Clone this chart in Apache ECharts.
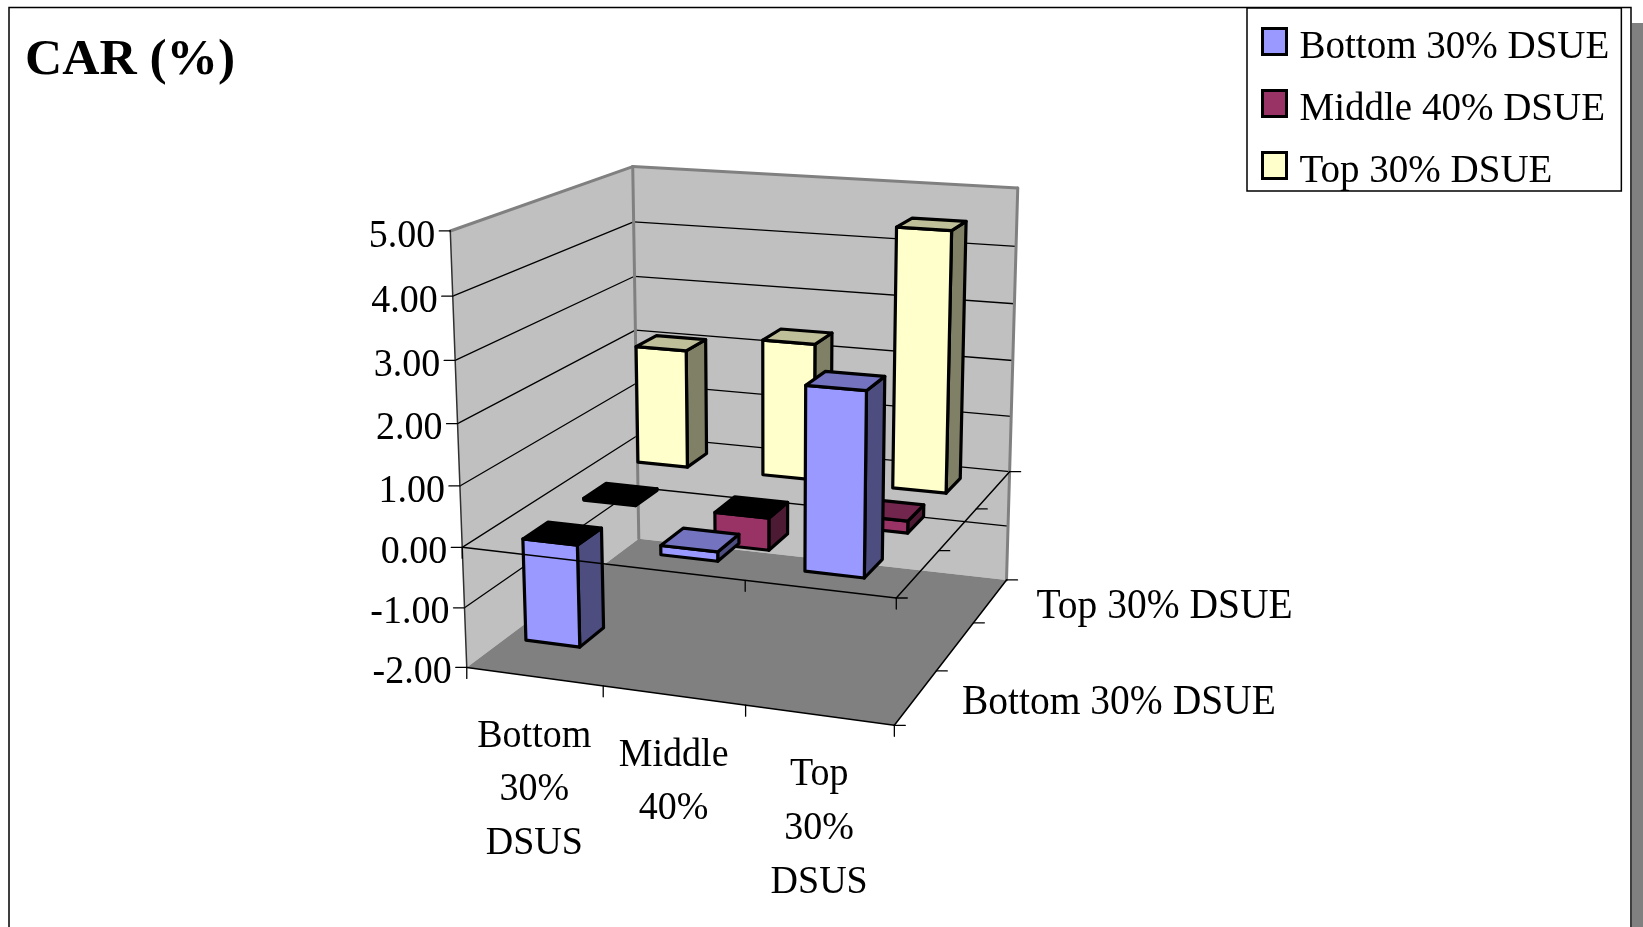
<!DOCTYPE html>
<html>
<head>
<meta charset="utf-8">
<style>html,body{margin:0;padding:0;background:#fff}#chart{width:1643px;height:927px}</style>
<script src="https://cdn.jsdelivr.net/npm/echarts@6/dist/echarts.min.js"></script>
</head>
<body>
<div id="chart"></div>
<script>
// Chart data
const surpriseGroups = ["Bottom\n30%\nDSUS", "Middle\n40%", "Top\n30%\nDSUS"];
const earningsGroups = ["Bottom 30% DSUE", "Middle 40% DSUE", "Top 30% DSUE"];
const valueTicks = [5, 4, 3, 2, 1, 0, -1, -2];
const bottomDsue = [-1.7, 0.15, 2.9];
const middleDsue = [-0.03, -0.55, 0.2];
const topDsue = [2.1, 2.4, 4.5];

// Face colours of each bar: front, lit top, shaded side
const faces = {
  bottom: { front: "#9999FF", top: "#7373BF", side: "#4D4D80" },
  middle: { front: "#993366", top: "#73264D", side: "#4D1A33" },
  top: { front: "#FFFFCC", top: "#BFBF99", side: "#808066" }
};

const FONT = '"Liberation Serif", "Times New Roman", serif';
const LABEL = "38px " + FONT;
const WIDE_LABEL = "39.5px " + FONT;
const vMin = valueTicks[valueTicks.length - 1];
const vMax = valueTicks[0];
const nCat = surpriseGroups.length;
const nRow = earningsGroups.length;

// Camera calibration: known plot-box corners (category, row, value) -> canvas position
const calibration = [
  [0, 0, vMax, 450.6, 230.5], [0, nRow, vMax, 632.9, 166], [nCat, nRow, vMax, 1017.4, 188.6],
  [0, 0, vMin, 467.3, 667.5], [0, nRow, vMin, 639.2, 537.5], [nCat, nRow, vMin, 1007, 579.4],
  [nCat, 0, vMin, 893, 726], [0, 0, 0, 462, 547], [nCat, 0, 0, 897, 598],
  [nCat, nRow, 0, 1010, 471], [0, nRow, 0, 636, 438]
];

// Least-squares fit of a projective camera matrix (11 free terms)
function fitCamera(points) {
  const n = 11, A = [];
  for (let i = 0; i < n; i++) A.push(new Array(n + 1).fill(0));
  const add = (row, rhs) => {
    for (let i = 0; i < n; i++) {
      for (let j = 0; j < n; j++) A[i][j] += row[i] * row[j];
      A[i][n] += row[i] * rhs;
    }
  };
  points.forEach(([u, v, w, px, py]) => {
    const x = px / 1000, y = py / 1000;
    add([u, v, w, 1, 0, 0, 0, 0, -x * u, -x * v, -x * w], x);
    add([0, 0, 0, 0, u, v, w, 1, -y * u, -y * v, -y * w], y);
  });
  for (let c = 0; c < n; c++) {
    let best = c;
    for (let r = c + 1; r < n; r++) if (Math.abs(A[r][c]) > Math.abs(A[best][c])) best = r;
    [A[c], A[best]] = [A[best], A[c]];
    for (let r = 0; r < n; r++) {
      if (r === c) continue;
      const f = A[r][c] / A[c][c];
      for (let k = c; k <= n; k++) A[r][k] -= f * A[c][k];
    }
  }
  return A.map((row, i) => row[n] / row[i]);
}
const cam = fitCamera(calibration);
function project(u, v, w) {
  const d = cam[8] * u + cam[9] * v + cam[10] * w + 1;
  return [
    1000 * (cam[0] * u + cam[1] * v + cam[2] * w + cam[3]) / d,
    1000 * (cam[4] * u + cam[5] * v + cam[6] * w + cam[7]) / d
  ];
}

// Shape helpers: all go through the cartesian axes of the grid
const pt = (api, u, v, w) => api.coord(project(u, v, w));
const poly = (points, fill, stroke, lineWidth) => ({
  type: "polygon",
  shape: { points },
  style: { fill, stroke: stroke || null, lineWidth: lineWidth || 0, lineJoin: "round" }
});
const line = (a, b, stroke, lineWidth) => ({
  type: "line",
  shape: { x1: a[0], y1: a[1], x2: b[0], y2: b[1] },
  style: { stroke, lineWidth, lineCap: "round", fill: null }
});
// Serif labels are set slightly tall
const TALL = 1.06;
const text = (x, y, str, font, align, vAlign, extra) => ({
  type: "text",
  x,
  y,
  scaleY: TALL,
  style: Object.assign({ x: 0, y: 0, text: str, font, fill: "#000", align, verticalAlign: vAlign }, extra || {})
});

const HALF_W = 0.2, HALF_D = 0.2, EDGE = 3.2;

// One 3-D column: base plane is value 0, negative columns show a black cap
function columnSeries(name, values, row, palette, z) {
  return {
    type: "custom",
    name,
    z,
    clip: false,
    coordinateSystem: "cartesian2d",
    encode: { x: 0, y: 1 },
    itemStyle: { color: palette.front },
    data: values.map((v, i) => [i, v]),
    renderItem(params, api) {
      const cat = api.value(0), val = api.value(1);
      const u0 = cat + 0.5 - HALF_W, u1 = cat + 0.5 + HALF_W;
      const v0 = row + 0.5 - HALF_D, v1 = row + 0.5 + HALF_D;
      const hi = Math.max(val, 0), lo = Math.min(val, 0);
      const capFill = val < 0 ? "#000" : palette.top;
      return {
        type: "group",
        children: [
          poly([pt(api, u1, v0, hi), pt(api, u1, v1, hi), pt(api, u1, v1, lo), pt(api, u1, v0, lo)], palette.side, "#000", EDGE),
          poly([pt(api, u0, v0, hi), pt(api, u1, v0, hi), pt(api, u1, v0, lo), pt(api, u0, v0, lo)], palette.front, "#000", EDGE),
          poly([pt(api, u0, v0, hi), pt(api, u0, v1, hi), pt(api, u1, v1, hi), pt(api, u1, v0, hi)], capFill, "#000", EDGE)
        ]
      };
    }
  };
}

const TICK = 11;

// Walls, floor, gridlines and the zero-plane ticks behind the columns
const wallsSeries = {
  type: "custom",
  name: "walls",
  z: 1,
  clip: false,
  silent: true,
  data: [[0, 0]],
  encode: { x: 0, y: 1 },
  renderItem(params, api) {
    const p = (u, v, w) => pt(api, u, v, w);
    const kids = [
      poly([p(0, 0, vMax), p(0, nRow, vMax), p(0, nRow, vMin), p(0, 0, vMin)], "#C0C0C0"),
      poly([p(0, nRow, vMax), p(nCat, nRow, vMax), p(nCat, nRow, vMin), p(0, nRow, vMin)], "#C0C0C0"),
      poly([p(0, 0, vMin), p(0, nRow, vMin), p(nCat, nRow, vMin), p(nCat, 0, vMin)], "#808080")
    ];
    valueTicks.forEach(w => {
      if (w === vMax || w === vMin) return;
      kids.push(line(p(0, 0, w), p(0, nRow, w), "#000", 1.3));
      kids.push(line(p(0, nRow, w), p(nCat, nRow, w), "#000", 1.3));
    });
    kids.push(line(p(0, 0, vMax), p(0, nRow, vMax), "#808080", 3));
    kids.push(line(p(0, nRow, vMax), p(nCat, nRow, vMax), "#808080", 3));
    kids.push(line(p(0, nRow, vMax), p(0, nRow, vMin), "#808080", 3));
    kids.push(line(p(nCat, nRow, vMax), p(nCat, nRow, vMin), "#808080", 3));
    kids.push(line(p(0, 0, vMax), p(0, 0, vMin), "#303030", 1.5));
    for (let i = 0; i <= nCat; i++) {
      const a = p(i, 0, 0);
      kids.push(line(a, [a[0], a[1] + TICK], "#000", 1.3));
    }
    for (let j = 0; j <= nRow; j++) {
      const a = p(nCat, j, 0);
      kids.push(line(a, [a[0] + TICK, a[1]], "#000", 1.3));
    }
    return { type: "group", children: kids };
  }
};

// Axis lines, floor ticks and labels on top of the columns
const axesSeries = {
  type: "custom",
  name: "axes",
  z: 6,
  clip: false,
  silent: true,
  data: [[0, 0]],
  encode: { x: 0, y: 1 },
  renderItem(params, api) {
    const p = (u, v, w) => pt(api, u, v, w);
    const kids = [];
    [0, vMin].forEach(w => {
      kids.push(line(p(0, 0, w), p(nCat, 0, w), "#000", 1.5));
      kids.push(line(p(nCat, 0, w), p(nCat, nRow, w), "#000", 1.5));
    });
    for (let i = 0; i <= nCat; i++) {
      const a = p(i, 0, vMin);
      kids.push(line(a, [a[0], a[1] + TICK], "#000", 1.3));
    }
    for (let j = 0; j <= nRow; j++) {
      const a = p(nCat, j, vMin);
      kids.push(line(a, [a[0] + TICK, a[1]], "#000", 1.3));
    }
    valueTicks.forEach(w => {
      const a = p(0, 0, w);
      kids.push(line(a, [a[0] - TICK, a[1]], "#000", 1.3));
      kids.push(text(a[0] - 15, a[1] + 5, w.toFixed(2), LABEL, "right", "middle"));
    });
    surpriseGroups.forEach((name, i) => {
      const a = p(i + 0.5, 0, vMin);
      kids.push(text(a[0], a[1] + 33, name, LABEL, "center", "top", { lineHeight: 50.5 }));
    });
    earningsGroups.forEach((name, j) => {
      if (j % 2) return; // every other depth label, as space allows
      const a = p(nCat, j + 0.5, vMin);
      kids.push(text(a[0] + 46, a[1] + 6, name, WIDE_LABEL, "left", "middle"));
    });
    return { type: "group", children: kids };
  }
};

const chart = echarts.init(document.getElementById("chart"), null, { renderer: "canvas" });
chart.setOption({
  animation: false,
  backgroundColor: "#fff",
  grid: { left: 0, top: 0, width: 1643, height: 927 },
  xAxis: { type: "value", min: 0, max: 1643, show: false },
  yAxis: { type: "value", min: 0, max: 927, inverse: true, show: false },
  title: {
    text: "CAR (%)",
    left: 25,
    top: 35,
    padding: 0,
    textStyle: { fontFamily: FONT, fontWeight: "bold", fontSize: 51.5, color: "#000" }
  },
  legend: {
    orient: "vertical",
    left: 1247,
    top: 8,
    padding: [19, 12, 0, 14],
    itemWidth: 24,
    itemHeight: 26,
    itemGap: 22,
    itemStyle: { borderColor: "#000", borderWidth: 3 },
    borderColor: "#000",
    borderWidth: 1.5,
    backgroundColor: "#fff",
    formatter: name => "{entry|" + name + "}",
    textStyle: {
      rich: {
        entry: { fontFamily: FONT, fontSize: 39, color: "#000", padding: [12, 0, 0, 8] }
      }
    },
    selectedMode: false,
    zlevel: 2,
    data: [
      { name: earningsGroups[0], icon: "rect", itemStyle: { color: faces.bottom.front } },
      { name: earningsGroups[1], icon: "rect", itemStyle: { color: faces.middle.front } },
      { name: earningsGroups[2], icon: "rect", itemStyle: { color: faces.top.front } }
    ]
  },
  // Outer frame and its drop shadow
  graphic: [
    { type: "rect", z: 0, shape: { x: 1632, y: 23, width: 11, height: 904 }, style: { fill: "#808080" } },
    { type: "polyline", z: 0, shape: { points: [[9, 927], [9, 7.5], [1631, 7.5], [1631, 927]] }, style: { stroke: "#000", lineWidth: 1.5, fill: null } }
  ],
  series: [
    wallsSeries,
    columnSeries(earningsGroups[2], topDsue, 2, faces.top, 2),
    columnSeries(earningsGroups[1], middleDsue, 1, faces.middle, 3),
    columnSeries(earningsGroups[0], bottomDsue, 0, faces.bottom, 4),
    axesSeries
  ]
});
</script>
</body>
</html>
